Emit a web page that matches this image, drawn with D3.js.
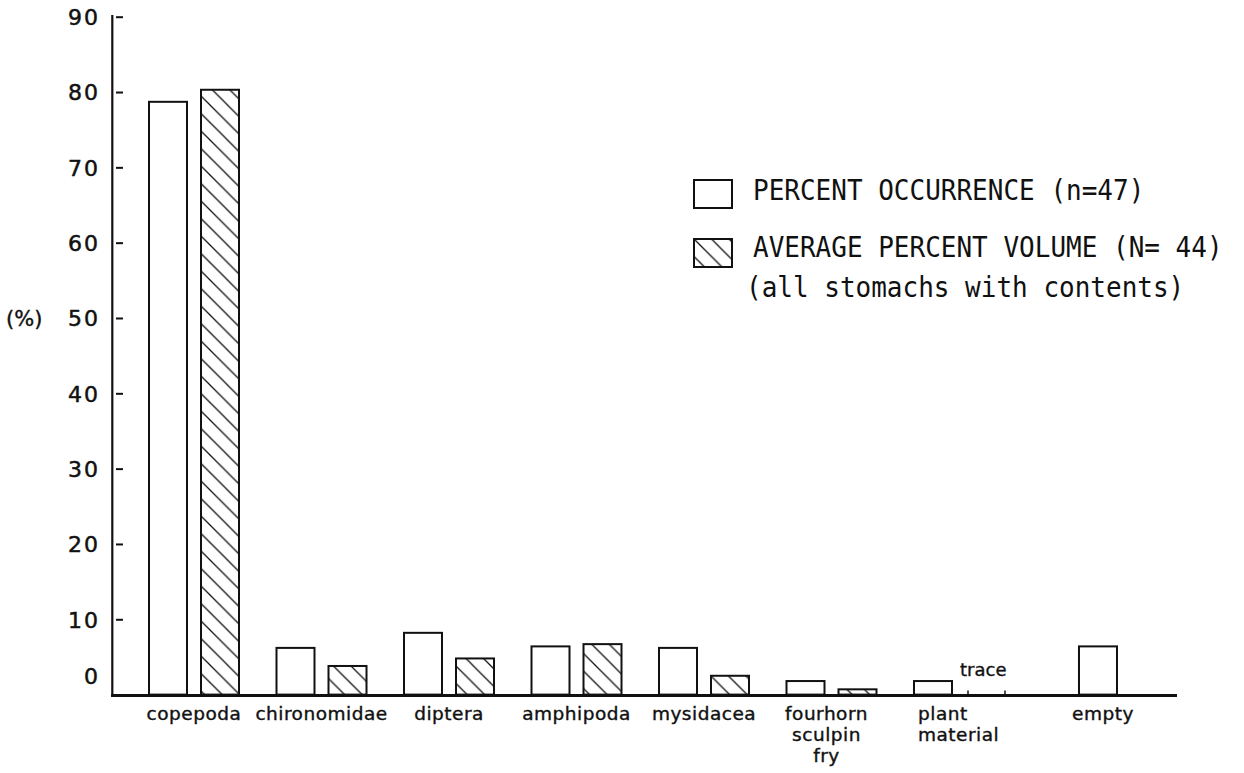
<!DOCTYPE html>
<html>
<head>
<meta charset="utf-8">
<script src="https://cdn.jsdelivr.net/npm/d3@7"></script>
<style>
  html, body { margin: 0; padding: 0; background: #fff; }
  svg { display: block; }
</style>
</head>
<body>
<svg id="chart" width="1244" height="773"></svg>
<script>
// ---------------- data ----------------
const categories = ["copepoda", "chironomidae", "diptera", "amphipoda", "mysidacea", "fourhorn sculpin fry", "plant material", "empty"];
const categoryLines = [["copepoda"], ["chironomidae"], ["diptera"], ["amphipoda"], ["mysidacea"], ["fourhorn", "sculpin", "fry"], ["plant", "material"], ["empty"]];
const percentOccurrence = [78.7, 6.2, 8.2, 6.4, 6.2, 1.8, 1.8, 6.4];
const averagePercentVolume = [80.3, 3.8, 4.8, 6.7, 2.5, 0.7, null, null]; // plant material = trace, empty = none
const traceCategory = "plant material";
const yTicks = [0, 10, 20, 30, 40, 50, 60, 70, 80, 90];
const legendLabels = ["PERCENT OCCURRENCE (n=47)", "AVERAGE PERCENT VOLUME (N= 44)", "(all stomachs with contents)"];
const yAxisLabel = "(%)";
const traceLabel = "trace";

// ---------------- layout ----------------
const svg = d3.select("#chart");
svg.append("rect").attr("width", 1244).attr("height", 773).attr("fill", "#fff");

const y = d3.scaleLinear().domain([0, 90]).range([694.6, 16.7]);
// group slots: the 'empty' group sits a little further right than a regular step
const slotIndex = categories.map((c, i) => c === "empty" ? i + 0.294 : i);
const xGroup = d3.scaleLinear().domain([0, 7]).range([149, 149 + 7 * 127.5]);
const barW = 38, volOffset = 52;

const defs = svg.append("defs");
const pat = defs.append("pattern").attr("id", "hatch")
  .attr("patternUnits", "userSpaceOnUse").attr("width", 17.5).attr("height", 17.5);
pat.append("path")
  .attr("d", "M0,0 L17.5,17.5 M-4,13.5 L4,21.5 M13.5,-4 L21.5,4")
  .attr("stroke", "#111").attr("stroke-width", 1.3).attr("fill", "none");

const font = "'DejaVu Sans', sans-serif";

// y axis (ticks detached from the axis line, as in the original)
const yAxis = d3.axisLeft(y).tickValues(yTicks).tickSize(7).tickPadding(18).tickFormat(d3.format("d"));
const gy = svg.append("g").attr("transform", "translate(123,0)").call(yAxis)
  .attr("font-family", font).attr("font-size", 22);
gy.select(".domain").remove();
gy.selectAll(".tick line").attr("stroke", "#111").attr("stroke-width", 2)
  .attr("display", d => d === 0 ? "none" : null);
gy.selectAll(".tick text").attr("fill", "#111")
  .attr("stroke", "#111").attr("stroke-width", 0.5)
  .style("letter-spacing", "2px")
  .attr("dy", d => d === 0 ? "-0.5em" : "0.36em")
  .attr("dx", "2px");

svg.append("line").attr("x1", 112.3).attr("x2", 112.3).attr("y1", 15).attr("y2", 696.5)
  .attr("stroke", "#111").attr("stroke-width", 2.2);

svg.append("text").attr("x", 6).attr("y", y(50)).attr("dy", "0.36em")
  .attr("font-family", font).attr("font-size", 21).attr("fill", "#111")
  .attr("stroke", "#111").attr("stroke-width", 0.4).text(yAxisLabel);

// bars
const bars = svg.append("g");
categories.forEach((c, i) => {
  const gx = xGroup(slotIndex[i]);
  bars.append("rect").attr("x", gx).attr("y", y(percentOccurrence[i]))
    .attr("width", barW).attr("height", y(0) - y(percentOccurrence[i]))
    .attr("fill", "#fff").attr("stroke", "#111").attr("stroke-width", 2);
  const v = averagePercentVolume[i];
  if (v != null) {
    bars.append("rect").attr("x", gx + volOffset).attr("y", y(v))
      .attr("width", barW).attr("height", y(0) - y(v))
      .attr("fill", "url(#hatch)").attr("stroke", "#111").attr("stroke-width", 2);
  }
  if (c === traceCategory) {
    const tx = gx + volOffset + 2;
    [tx, tx + 37].forEach(px => {
      bars.append("line").attr("x1", px).attr("x2", px).attr("y1", y(0) - 4).attr("y2", y(0))
        .attr("stroke", "#111").attr("stroke-width", 1.5);
    });
    bars.append("text").attr("x", tx - 8).attr("y", y(0) - 19)
      .attr("font-family", font).attr("font-size", 18).attr("fill", "#111")
      .attr("stroke", "#111").attr("stroke-width", 0.35).text(traceLabel);
  }
});

// x axis baseline
svg.append("line").attr("x1", 111).attr("x2", 1177).attr("y1", 695.5).attr("y2", 695.5)
  .attr("stroke", "#111").attr("stroke-width", 3);

// category labels
categories.forEach((c, i) => {
  const gx = xGroup(slotIndex[i]);
  const isPlant = c === traceCategory;
  const isEmpty = c === "empty";
  const cx = isEmpty ? gx + barW / 2 + 5 : (c.startsWith("fourhorn") ? gx + 40 : gx + (volOffset + barW) / 2);
  const t = svg.append("text")
    .attr("x", isPlant ? gx + 4 : cx)
    .attr("text-anchor", isPlant ? "start" : "middle")
    .attr("font-family", font).attr("font-size", 18.5).style("letter-spacing", "0.5px")
    .attr("fill", "#111").attr("stroke", "#111").attr("stroke-width", 0.4);
  categoryLines[i].forEach((ln, k) => {
    t.append("tspan").attr("x", isPlant ? gx + 4 : cx).attr("y", 720 + k * 21).text(ln);
  });
});

// legend
const legend = svg.append("g");
legend.append("rect").attr("x", 694).attr("y", 180).attr("width", 38).attr("height", 28)
  .attr("fill", "#fff").attr("stroke", "#111").attr("stroke-width", 2);
legend.append("rect").attr("x", 694).attr("y", 239).attr("width", 38).attr("height", 28)
  .attr("fill", "url(#hatch)").attr("stroke", "#111").attr("stroke-width", 2);
const legPos = [[753, 200], [753, 257], [746, 297]];
legendLabels.forEach((l, k) => {
  legend.append("text")
    .attr("transform", `translate(${legPos[k][0]},${legPos[k][1]}) scale(1,1.1)`)
    .attr("font-family", "'DejaVu Sans Mono', monospace").attr("font-size", 26)
    .attr("fill", "#111").style("white-space", "pre").text(l);
});
</script>
</body>
</html>
